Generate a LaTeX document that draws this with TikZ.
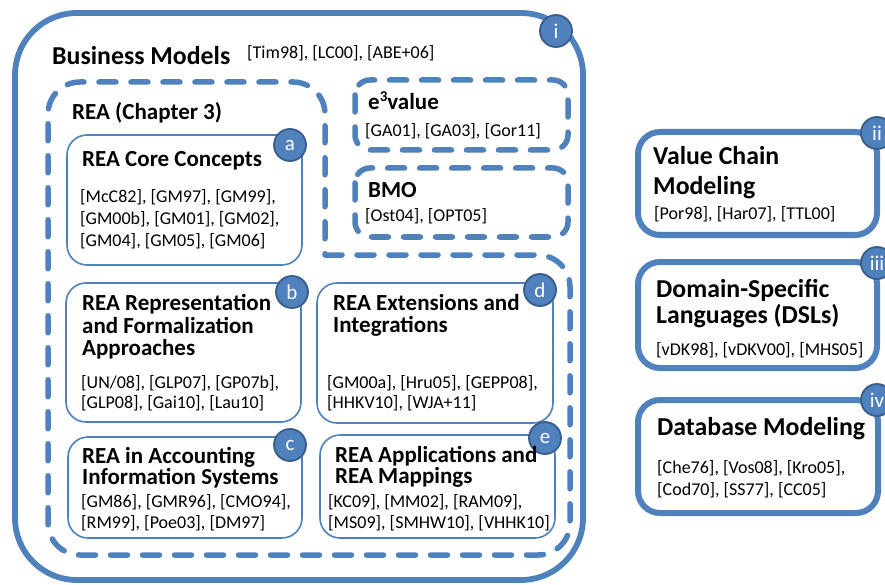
\documentclass[tikz,border=0pt]{standalone}
\usepackage{fontspec}
\setmainfont{Carlito}
\definecolor{bmblue}{HTML}{4F81BD}
\definecolor{bmdark}{HTML}{385D8A}
\newcommand\bigtitle{\fontsize{25.8}{25.8}\selectfont\bfseries}
\newcommand\boxtitle{\fontsize{23}{23}\selectfont\bfseries}
\newcommand\reffont{\fontsize{18}{18}\selectfont}
\newcommand\supthree{\raisebox{0.36em}{\fontsize{15}{15}\selectfont\bfseries 3}}
\tikzset{
  txt/.style={anchor=base west, inner sep=0pt, text=black},
  ttl/.style={txt, font=\boxtitle},
  bigttl/.style={txt, font=\bigtitle},
  refs/.style={txt, font=\reffont},
  badge/.style={circle, fill=bmblue, draw=bmdark, line width=1.8pt,
    minimum size=32pt, inner sep=0pt, text=white,
    font=\fontsize{21}{21}\selectfont},
  outerline/.style={draw=bmblue, line width=5.8pt},
  innerbox/.style={draw=bmblue, line width=1.6pt, fill=white, rounded corners=20pt},
  sidebox/.style={draw=bmblue, line width=6pt, fill=white, rounded corners=22pt},
  dashline/.style={draw=bmblue, line width=5.5pt, line cap=round,
    dash pattern=on 17pt off 15pt},
}
\begin{document}
\begin{tikzpicture}[x=1pt, y=-1pt]
\useasboundingbox (0,0) rectangle (885,585);
\clip (0,0) rectangle (885,585);
\fill[white] (0,0) rectangle (885,585);

% outer frame: business models
\draw[outerline, rounded corners=62pt] (15,13) rectangle (583,580);
\node[badge] (bi) at (556,31) {i};
\node[bigttl] (bmt) at (52,65) {Business Models};
\node[refs] (bmr) at (247,59) {[Tim98], [LC00], [ABE+06]};

% REA region (L-shaped dashed outline)
\draw[dashline, rounded corners=32pt]
  (325,255) -- (570,255) -- (570,555) -- (48,555) -- (48,82) -- (325,82) -- (325,255);
\node[txt, font=\boxtitle] (reat) at (72,120) {REA (Chapter 3)};

% e3value and BMO
\draw[dashline, rounded corners=15pt] (355,80) rectangle (568,150);
\node[ttl] (e3t) at (368,110) {e\supthree value};
\node[refs] (e3r) at (365,137) {[GA01], [GA03], [Gor11]};
\draw[dashline, rounded corners=15pt] (355,168) rectangle (568,237);
\node[ttl] (bmot) at (368,198) {BMO};
\node[refs] (bmor) at (365,222) {[Ost04], [OPT05]};

% (a) core concepts
\draw[innerbox] (67,135) rectangle (302,265);
\node[badge] (ba) at (290,145) {a};
\node[ttl] (at1) at (82,167) {REA Core Concepts};
\node[refs] (ar1) at (80,203) {[McC82], [GM97], [GM99],};
\node[refs] (ar2) at (80,225) {[GM00b], [GM01], [GM02],};
\node[refs] (ar3) at (80,246) {[GM04], [GM05], [GM06]};

% (b) representation
\draw[innerbox] (66,283) rectangle (301,422);
\node[badge] (bb) at (292,292) {b};
\node[ttl] (bt1) at (82,310) {REA Representation};
\node[ttl] (bt2) at (82,333) {and Formalization};
\node[ttl] (bt3) at (82,355) {Approaches};
\node[refs] (br1) at (81,388) {[UN/08], [GLP07], [GP07b],};
\node[refs] (br2) at (81,408) {[GLP08], [Gai10], [Lau10]};

% (c) accounting information systems
\draw[innerbox] (68,437) rectangle (302,538);
\node[badge] (bc) at (290,445) {c};
\node[ttl] (ct1) at (82,463) {REA in Accounting};
\node[ttl] (ct2) at (82,484) {Information Systems};
\node[refs] (cr1) at (81,507) {[GM86], [GMR96], [CMO94],};
\node[refs] (cr2) at (81,528) {[RM99], [Poe03], [DM97]};

% (d) extensions
\draw[innerbox] (317,283) rectangle (553,423);
\node[badge] (bd) at (540,290) {d};
\node[ttl] (dt1) at (333,310) {REA Extensions and};
\node[ttl] (dt2) at (333,332) {Integrations};
\node[refs] (dr1) at (327,388) {[GM00a], [Hru05], [GEPP08],};
\node[refs] (dr2) at (327,408) {[HHKV10], [WJA+11]};

% (e) applications
\draw[innerbox] (320,435) rectangle (555,538);
\node[badge] (be) at (545,438) {e};
\node[ttl] (et1) at (335,462) {REA Applications and};
\node[ttl] (et2) at (335,483) {REA Mappings};
\node[refs] (er1) at (328,507) {[KC09], [MM02], [RAM09],};
\node[refs] (er2) at (328,528) {[MS09], [SMHW10], [VHHK10]};

% side boxes
\draw[sidebox] (638,132) rectangle (877,235);
\node[badge] (bii) at (877,133) {ii};
\node[bigttl] (vt1) at (653,165) {Value Chain};
\node[bigttl] (vt2) at (653,195) {Modeling};
\node[refs] (vr1) at (654,220) {[Por98], [Har07], [TTL00]};

\draw[sidebox] (638,262) rectangle (877,368);
\node[badge] (biii) at (877,263) {iii};
\node[bigttl] (lt1) at (656,297) {Domain-Specific};
\node[bigttl] (lt2) at (656,323) {Languages (DSLs)};
\node[refs] (lr1) at (656,355) {[vDK98], [vDKV00], [MHS05]};

\draw[sidebox] (638,400) rectangle (878,513);
\node[badge] (biv) at (877,400) {iv};
\node[bigttl] (dbt) at (657,435) {Database Modeling};
\node[refs] (dbr1) at (657,473) {[Che76], [Vos08], [Kro05],};
\node[refs] (dbr2) at (657,495) {[Cod70], [SS77], [CC05]};
\end{tikzpicture}
\end{document}
